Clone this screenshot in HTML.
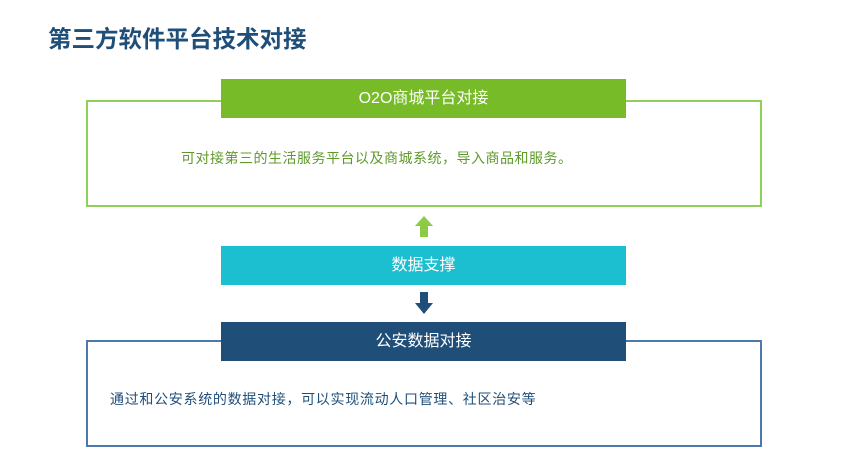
<!DOCTYPE html>
<html><head><meta charset="utf-8"><style>
body{margin:0;width:865px;height:449px;background:#fff;position:relative;overflow:hidden;font-family:"Liberation Sans","Noto Sans CJK SC",sans-serif}
div{position:absolute;box-sizing:border-box}
.t{left:48px;top:23px;font-size:23.5px;font-weight:bold;color:#1f4e79;white-space:nowrap;line-height:32px}
.hdr{left:221px;width:405px;height:39px;color:#fff;font-size:16px;line-height:39px;text-align:center}
.txt{font-size:14px;white-space:nowrap;line-height:20px;letter-spacing:0.5px}
</style></head><body>
<div class="t">第三方软件平台技术对接</div>
<div style="left:86px;top:100px;width:676px;height:107px;border:2px solid #8fd05a"></div>
<div class="hdr" style="top:79px;background:#77bb28">O2O商城平台对接</div>
<div class="txt" style="left:181px;top:148px;color:#5e9a2a">可对接第三的生活服务平台以及商城系统，导入商品和服务。</div>
<svg style="position:absolute;left:414px;top:216px" width="20" height="21"><polygon points="10,0 19,10 14,10 14,21 6,21 6,10 1,10" fill="#8ccc44"/></svg>
<div class="hdr" style="top:246px;background:#1cbfcf">数据支撑</div>
<svg style="position:absolute;left:414px;top:292px" width="20" height="22"><polygon points="6,0 14,0 14,11 19,11 10,22 1,11 6,11" fill="#1f4e79"/></svg>
<div style="left:86px;top:340px;width:676px;height:107px;border:2px solid #4a7aaa"></div>
<div class="hdr" style="top:322px;background:#1f4e79">公安数据对接</div>
<div class="txt" style="left:110px;top:389px;color:#1f4e79;letter-spacing:0.7px">通过和公安系统的数据对接，可以实现流动人口管理、社区治安等</div>
</body></html>
